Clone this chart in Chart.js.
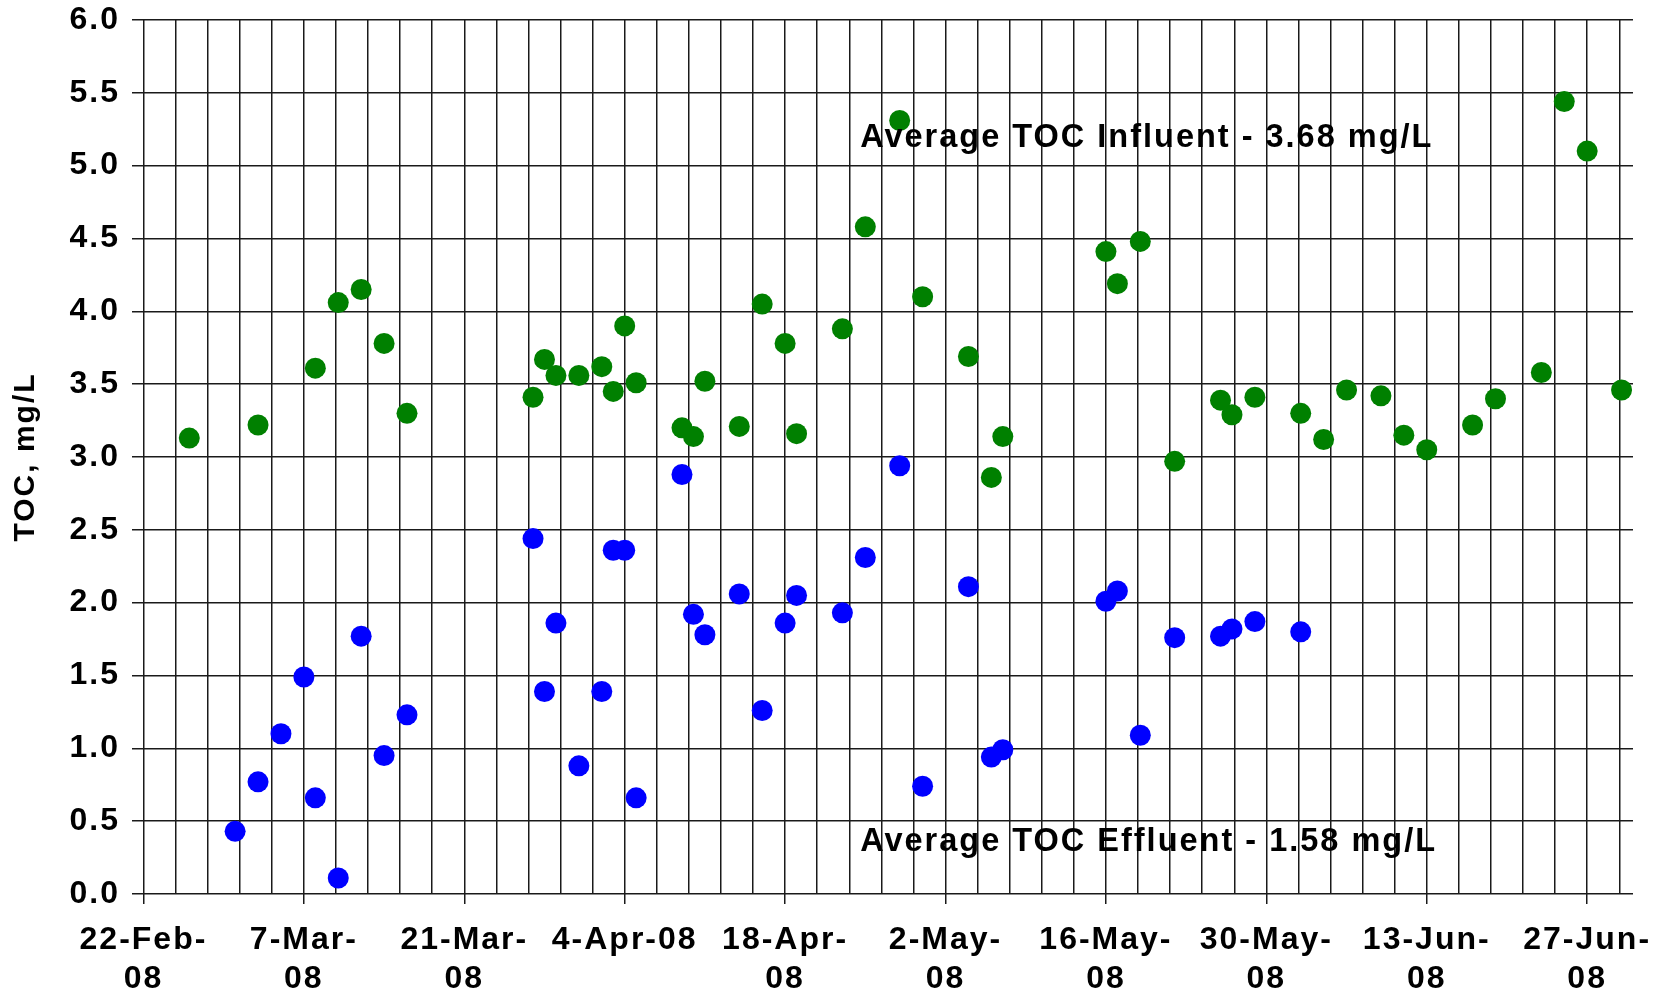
<!DOCTYPE html>
<html>
<head>
<meta charset="utf-8">
<script src="https://cdn.jsdelivr.net/npm/chart.js@4/dist/chart.umd.min.js"></script>
<style>
html,body{margin:0;padding:0;background:#ffffff;}
canvas{display:block;}
</style>
</head>
<body>
<canvas id="chart" width="1665" height="994"></canvas>
<script>
// ---------------- DATA ----------------
const influentDates = [
  '2008-02-26','2008-03-03','2008-03-08','2008-03-10','2008-03-12','2008-03-14','2008-03-16',
  '2008-03-27','2008-03-28','2008-03-29','2008-03-31','2008-04-02','2008-04-03','2008-04-04','2008-04-05',
  '2008-04-09','2008-04-10','2008-04-11','2008-04-14','2008-04-16','2008-04-18','2008-04-19',
  '2008-04-23','2008-04-25','2008-04-28','2008-04-30','2008-05-04','2008-05-06','2008-05-07',
  '2008-05-16','2008-05-17','2008-05-19','2008-05-22','2008-05-26','2008-05-27','2008-05-29',
  '2008-06-02','2008-06-04','2008-06-06','2008-06-09','2008-06-11','2008-06-13','2008-06-17',
  '2008-06-19','2008-06-23','2008-06-25','2008-06-27','2008-06-30'
];
const influentValues = [
  3.13, 3.22, 3.61, 4.06, 4.15, 3.78, 3.30,
  3.41, 3.67, 3.56, 3.56, 3.62, 3.45, 3.90, 3.51,
  3.20, 3.14, 3.52, 3.21, 4.05, 3.78, 3.16,
  3.88, 4.58, 5.31, 4.10, 3.69, 2.86, 3.14,
  4.41, 4.19, 4.48, 2.97, 3.39, 3.29, 3.41,
  3.30, 3.12, 3.46, 3.42, 3.15, 3.05, 3.22,
  3.40, 3.58, 5.44, 5.10, 3.46
];
const effluentDates = [
  '2008-03-01','2008-03-03','2008-03-05','2008-03-07','2008-03-08','2008-03-10','2008-03-12','2008-03-14','2008-03-16',
  '2008-03-27','2008-03-28','2008-03-29','2008-03-31','2008-04-02','2008-04-03','2008-04-04','2008-04-05',
  '2008-04-09','2008-04-10','2008-04-11','2008-04-14','2008-04-16','2008-04-18','2008-04-19',
  '2008-04-23','2008-04-25','2008-04-28','2008-04-30','2008-05-04','2008-05-06','2008-05-07',
  '2008-05-16','2008-05-17','2008-05-19','2008-05-22','2008-05-26','2008-05-27','2008-05-29','2008-06-02'
];
const effluentValues = [
  0.43, 0.77, 1.10, 1.49, 0.66, 0.11, 1.77, 0.95, 1.23,
  2.44, 1.39, 1.86, 0.88, 1.39, 2.36, 2.36, 0.66,
  2.88, 1.92, 1.78, 2.06, 1.26, 1.86, 2.05,
  1.93, 2.31, 2.94, 0.74, 2.11, 0.94, 0.99,
  2.01, 2.08, 1.09, 1.76, 1.77, 1.82, 1.87, 1.80
];
const tickDates = ['2008-02-22','2008-03-07','2008-03-21','2008-04-04','2008-04-18',
                   '2008-05-02','2008-05-16','2008-05-30','2008-06-13','2008-06-27'];
const tickLabels = [['22-Feb-','08'],['7-Mar-','08'],['21-Mar-','08'],['4-Apr-08'],['18-Apr-','08'],
                    ['2-May-','08'],['16-May-','08'],['30-May-','08'],['13-Jun-','08'],['27-Jun-','08']];
const axisStartDate = '2008-02-21';
const axisEndDate = '2008-07-01';
const yMin = 0, yMax = 6, yStep = 0.5;
const influentLabel = 'Average TOC Influent - 3.68 mg/L';
const effluentLabel = 'Average TOC Effluent - 1.58 mg/L';

// ---------------- HELPERS ----------------
const toDay = s => Date.parse(s + 'T00:00:00Z') / 86400000;
const majorDays = tickDates.map(toDay);
const minorStep = 14 / 5;
const isMajor = v => majorDays.some(d => Math.abs(d - v) < 0.01);

const FONT = '"Liberation Sans", Arial, Helvetica, sans-serif';
Chart.defaults.font.family = FONT;
Chart.defaults.font.weight = 'bold';
Chart.defaults.color = '#000';

const spacingPlugin = {
  id: 'spacing',
  beforeUpdate(chart) { chart.ctx.letterSpacing = '2px'; },
  beforeLayout(chart) { chart.ctx.letterSpacing = '2px'; },
  beforeDraw(chart) { chart.ctx.letterSpacing = '2px'; }
};

const notes = [
  { text: influentLabel, x: toDay('2008-04-24') + 0.55, y: 5.13 },
  { text: effluentLabel, x: toDay('2008-04-24') + 0.55, y: 0.297 }
];
const notePlugin = {
  id: 'notes',
  afterDatasetsDraw(chart) {
    const { ctx, scales } = chart;
    ctx.save();
    ctx.letterSpacing = '2px';
    ctx.font = 'bold 32.5px ' + FONT;
    ctx.fillStyle = '#000';
    ctx.textAlign = 'left';
    ctx.textBaseline = 'alphabetic';
    notes.forEach(n => {
      ctx.fillText(n.text, scales.x.getPixelForValue(n.x), scales.y.getPixelForValue(n.y));
    });
    ctx.restore();
  }
};

const toPoints = (dates, vals) => dates.map((d, i) => ({ x: toDay(d), y: vals[i] }));

new Chart(document.getElementById('chart'), {
  type: 'scatter',
  data: {
    datasets: [
      {
        label: 'Influent',
        data: toPoints(influentDates, influentValues),
        backgroundColor: '#008000',
        borderWidth: 0,
        pointRadius: 10.5,
        pointHoverRadius: 10.5
      },
      {
        label: 'Effluent',
        data: toPoints(effluentDates, effluentValues),
        backgroundColor: '#0000ff',
        borderWidth: 0,
        pointRadius: 10.5,
        pointHoverRadius: 10.5
      }
    ]
  },
  options: {
    responsive: false,
    animation: false,
    devicePixelRatio: 1,
    layout: { padding: { left: 0, right: 32, top: 20, bottom: 0 } },
    plugins: { legend: { display: false }, tooltip: { enabled: false } },
    scales: {
      x: {
        type: 'linear',
        min: toDay(axisStartDate),
        max: toDay(axisEndDate),
        afterBuildTicks(scale) {
          const start = majorDays[0];
          const t = [];
          for (let k = 0; start + k * minorStep <= scale.max + 1e-9; k++) t.push({ value: start + k * minorStep });
          scale.ticks = t;
        },
        afterFit(scale) {
          scale.height = 100;
          scale.paddingLeft = 0; scale.paddingRight = 0;
          scale.paddingTop = 0; scale.paddingBottom = 0;
        },
        border: { display: false },
        grid: {
          color: '#1a1a1a',
          lineWidth: 1.5,
          drawTicks: true,
          tickLength: 10,
          tickColor: ctx => (ctx.tick && isMajor(ctx.tick.value)) ? '#1a1a1a' : 'rgba(0,0,0,0)',
          tickWidth: 1.5
        },
        ticks: {
          autoSkip: false,
          maxRotation: 0,
          minRotation: 0,
          padding: 17,
          font: { size: 32, weight: 'bold', lineHeight: 1.22 },
          color: '#000',
          callback(value) {
            const idx = majorDays.findIndex(d => Math.abs(d - value) < 0.01);
            return idx >= 0 ? tickLabels[idx] : '';
          }
        }
      },
      y: {
        min: yMin,
        max: yMax,
        afterFit(scale) {
          scale.width = 132;
          scale.paddingTop = 0; scale.paddingBottom = 0;
          scale.paddingLeft = 0; scale.paddingRight = 0;
        },
        border: { display: false },
        grid: { color: '#1a1a1a', lineWidth: 1.5, drawTicks: false },
        ticks: {
          stepSize: yStep,
          padding: 12,
          font: { size: 32, weight: 'bold' },
          color: '#000',
          callback: v => Number(v).toFixed(1)
        },
        title: {
          display: true,
          text: 'TOC, mg/L',
          color: '#000',
          font: { size: 30, weight: 'bold' },
          padding: { top: 8, bottom: 0 }
        }
      }
    }
  },
  plugins: [spacingPlugin, notePlugin]
});
</script>
</body>
</html>
